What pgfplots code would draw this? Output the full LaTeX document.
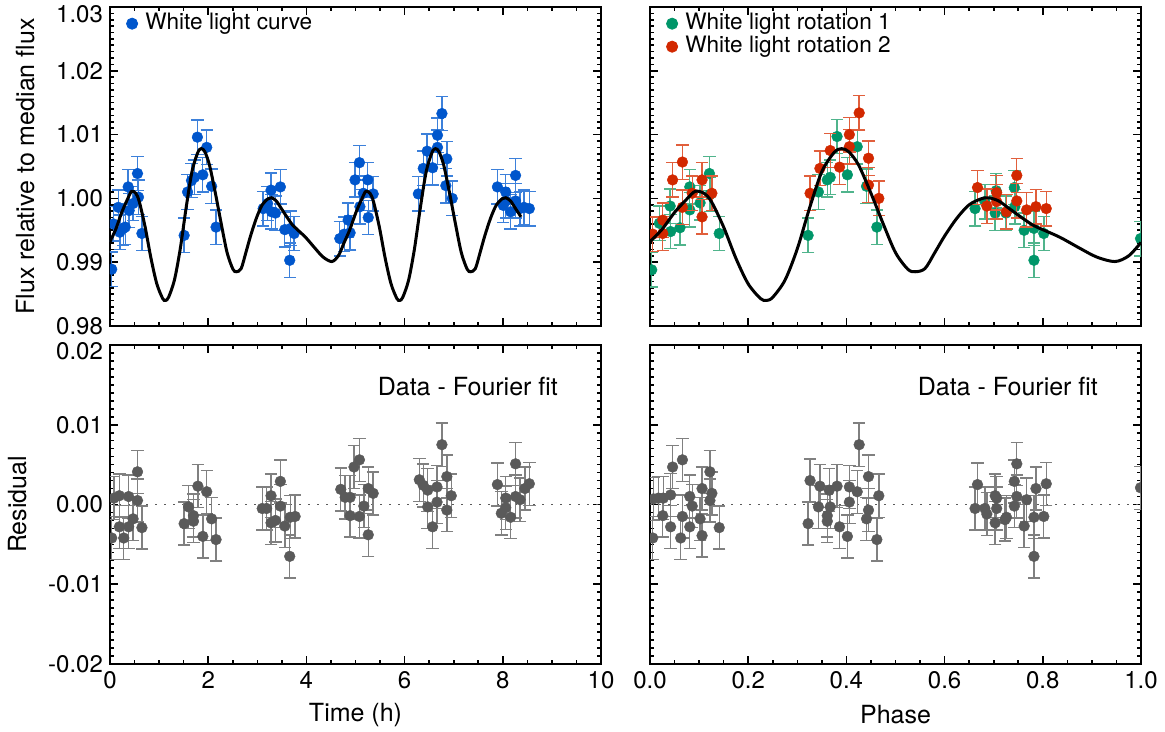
\documentclass[border=0pt]{standalone}
\usepackage{fontspec}
\setmainfont{TeX Gyre Heros}
\usepackage{pgfplots}
\usepackage{pgfplotstable}
\pgfplotsset{compat=1.18}
\definecolor{cblue}{RGB}{0,86,204}
\definecolor{cblueerr}{RGB}{60,128,218}
\definecolor{cgreen}{RGB}{0,150,105}
\definecolor{cgreenerr}{RGB}{80,180,140}
\definecolor{cred}{RGB}{210,40,0}
\definecolor{crederr}{RGB}{225,95,60}
\definecolor{cgray}{RGB}{90,90,90}
\definecolor{cgrayerr}{RGB}{128,128,128}

\pgfplotstableread[row sep=\\]{
x y\\
0.035 0.9889\\ 0.07 0.9960\\ 0.17 0.9986\\ 0.20 0.9947\\ 0.27 0.9953\\ 0.31 0.9955\\
0.37 1.0018\\ 0.39 0.9981\\ 0.47 0.9992\\ 0.56 1.0039\\ 0.58 1.0002\\ 0.65 0.9945\\
1.51 0.9942\\ 1.58 1.0010\\ 1.66 1.0028\\ 1.72 1.0033\\ 1.78 1.0096\\ 1.89 1.0037\\
1.97 1.0080\\ 2.07 1.0019\\ 2.16 0.9955\\
3.12 0.9984\\ 3.21 0.9992\\ 3.28 1.0013\\ 3.29 0.9979\\ 3.37 0.9977\\ 3.47 1.0018\\
3.56 0.9951\\ 3.66 0.9903\\ 3.68 0.9953\\ 3.75 0.9945\\
4.68 0.9937\\ 4.77 0.9944\\ 4.85 0.9966\\ 4.89 0.9946\\ 4.99 1.0029\\ 5.08 1.0056\\
5.09 0.9987\\ 5.16 1.0008\\ 5.25 1.0029\\ 5.26 0.9970\\ 5.36 1.0007\\
6.28 1.0007\\ 6.38 1.0047\\ 6.46 1.0074\\ 6.57 1.0048\\ 6.67 1.0099\\ 6.67 1.0080\\
6.76 1.0133\\ 6.84 1.0020\\ 6.86 1.0062\\ 6.97 1.0000\\
7.89 1.0018\\ 8.01 0.9989\\ 8.06 1.0010\\ 8.06 0.9996\\ 8.16 0.9979\\ 8.26 1.0036\\
8.26 0.9996\\ 8.35 0.9984\\ 8.43 0.9986\\ 8.54 0.9984\\
}\tblue

\pgfplotstableread[row sep=\\]{
x y\\
0.0035 0.9888\\ 0.019 0.9961\\ 0.041 0.9988\\ 0.042 0.9948\\ 0.061 0.9954\\ 0.081 1.0018\\
0.081 0.9982\\ 0.102 0.9993\\ 0.121 1.0039\\ 0.122 1.0006\\ 0.141 0.9945\\
0.322 0.9942\\ 0.343 1.0010\\ 0.361 1.0029\\ 0.367 1.0033\\ 0.381 1.0097\\ 0.402 1.0037\\
0.422 1.0081\\ 0.441 1.0019\\ 0.462 0.9955\\
0.662 0.9984\\ 0.682 0.9995\\ 0.703 0.9977\\ 0.705 1.0012\\ 0.725 0.9977\\ 0.742 1.0017\\
0.743 0.9987\\ 0.762 0.9950\\ 0.782 0.9903\\ 0.782 0.9953\\ 0.802 0.9945\\ 0.999 0.9937\\
}\tgreen

\pgfplotstableread[row sep=\\]{
x y\\
0.0055 0.9944\\ 0.026 0.9966\\ 0.026 0.9945\\ 0.046 1.0029\\ 0.066 1.0057\\ 0.066 0.9986\\
0.086 1.0008\\ 0.106 1.0029\\ 0.106 0.9971\\ 0.126 1.0008\\
0.326 1.0008\\ 0.346 1.0047\\ 0.367 1.0075\\ 0.386 1.0049\\ 0.406 1.0100\\ 0.406 1.0081\\
0.426 1.0134\\ 0.445 1.0063\\ 0.445 1.0021\\ 0.466 1.0000\\
0.667 1.0017\\ 0.686 0.9988\\ 0.706 1.0009\\ 0.706 0.9995\\ 0.726 0.9979\\ 0.747 1.0036\\
0.747 0.9996\\ 0.767 0.9982\\ 0.786 0.9987\\ 0.807 0.9984\\
}\tred

\pgfplotstableread[row sep=\\]{
x y\\
0.035 -0.0042\\ 0.08 0.0008\\ 0.19 0.0011\\ 0.19 -0.0028\\ 0.28 -0.0042\\ 0.38 0.0010\\
0.38 -0.0028\\ 0.47 -0.0018\\ 0.56 0.0041\\ 0.56 0.0005\\ 0.65 -0.0029\\
1.51 -0.0024\\ 1.60 -0.0003\\ 1.70 -0.0014\\ 1.70 -0.0021\\ 1.79 0.0023\\ 1.89 -0.0040\\
1.97 0.0016\\ 2.07 -0.0018\\ 2.16 -0.0044\\
3.10 -0.0005\\ 3.19 -0.0005\\ 3.28 0.0011\\ 3.28 -0.0023\\ 3.37 -0.0020\\ 3.47 0.0029\\
3.47 -0.0002\\ 3.56 -0.0027\\ 3.66 -0.0065\\ 3.67 -0.0016\\ 3.77 -0.0015\\
4.70 0.0019\\ 4.79 0.0009\\ 4.89 0.0009\\ 4.89 -0.0014\\ 4.97 0.0047\\ 5.08 0.0056\\
5.08 -0.0015\\ 5.17 -0.0002\\ 5.26 0.0020\\ 5.26 -0.0038\\ 5.36 0.0014\\
6.30 0.0031\\ 6.38 0.0024\\ 6.47 0.0018\\ 6.47 -0.0003\\ 6.57 -0.0028\\ 6.66 0.0022\\
6.66 0.0003\\ 6.76 0.0075\\ 6.86 0.0035\\ 6.86 -0.0007\\ 6.95 0.0011\\
7.89 0.0025\\ 7.97 -0.0011\\ 8.06 0.0008\\ 8.06 -0.0004\\ 8.16 -0.0016\\ 8.26 0.0051\\
8.26 0.0010\\ 8.35 0.0006\\ 8.45 0.0020\\ 8.54 0.0026\\
}\trestime

\pgfplotstableread[row sep=\\]{
x y\\
0.0055 -0.0042\\ 0.007 0.0007\\ 0.017 0.0008\\ 0.026 -0.0014\\ 0.027 0.0008\\ 0.042 0.0012\\
0.042 -0.0028\\ 0.046 0.0047\\ 0.0625 -0.0042\\ 0.066 -0.0015\\ 0.066 0.0056\\ 0.081 0.0010\\
0.081 -0.0028\\ 0.086 -0.0002\\ 0.102 -0.0018\\ 0.106 0.0020\\ 0.106 -0.0039\\ 0.122 0.0041\\
0.122 0.0005\\ 0.126 0.0014\\ 0.141 -0.0029\\
0.322 -0.0024\\ 0.326 0.0030\\ 0.343 -0.0003\\ 0.346 0.0023\\ 0.361 -0.0014\\ 0.361 -0.0021\\
0.365 0.0018\\ 0.367 -0.0003\\ 0.381 0.0023\\ 0.386 -0.0028\\ 0.402 -0.0040\\ 0.406 0.0022\\
0.406 0.0003\\ 0.422 0.0016\\ 0.426 0.0075\\ 0.441 -0.0018\\ 0.445 0.0035\\ 0.445 -0.0007\\
0.462 -0.0044\\ 0.466 0.0011\\
0.662 -0.0005\\ 0.667 0.0025\\ 0.682 -0.0005\\ 0.686 -0.0012\\ 0.703 0.0011\\ 0.703 -0.0023\\
0.706 0.0008\\ 0.706 -0.0005\\ 0.723 -0.0019\\ 0.726 -0.0016\\ 0.742 0.0029\\ 0.742 -0.0002\\
0.747 0.0051\\ 0.747 0.0010\\ 0.762 -0.0027\\ 0.767 0.0006\\ 0.782 -0.0065\\ 0.782 -0.0016\\
0.786 0.0020\\ 0.802 -0.0015\\ 0.807 0.0026\\ 0.999 0.0021\\
}\tresphase

\pgfplotstableread[row sep=\\]{
x y\\
0.000 0.9932\\ 0.025 0.9952\\ 0.050 0.9978\\ 0.075 0.9999\\ 0.092 1.0011\\ 0.110 1.0008\\
0.125 0.9995\\ 0.150 0.9955\\ 0.175 0.9906\\ 0.200 0.9866\\ 0.225 0.9843\\ 0.237 0.9840\\
0.250 0.9845\\ 0.275 0.9872\\ 0.300 0.9921\\ 0.325 0.9985\\ 0.350 1.0042\\ 0.375 1.0072\\
0.390 1.0078\\ 0.405 1.0073\\ 0.425 1.0052\\ 0.450 1.0008\\ 0.475 0.9960\\ 0.500 0.9915\\
0.525 0.9889\\ 0.540 0.9885\\ 0.560 0.9890\\ 0.580 0.9915\\ 0.600 0.9941\\ 0.625 0.9969\\
0.650 0.9990\\ 0.675 0.99995\\ 0.690 1.0001\\ 0.710 0.9996\\ 0.730 0.9985\\ 0.755 0.9971\\
0.780 0.9958\\ 0.800 0.9951\\ 0.835 0.9939\\ 0.875 0.9922\\ 0.910 0.9908\\ 0.947 0.9901\\
0.975 0.9910\\ 1.000 0.9931\\
}\tfitphase

\pgfplotstableread[row sep=\\]{
x y\\
0.000 0.9932\\ 0.119 0.9952\\ 0.239 0.9978\\ 0.358 0.9999\\ 0.439 1.0011\\ 0.525 1.0008\\
0.596 0.9995\\ 0.716 0.9955\\ 0.835 0.9906\\ 0.954 0.9866\\ 1.073 0.9843\\ 1.130 0.9840\\
1.193 0.9845\\ 1.312 0.9872\\ 1.431 0.9921\\ 1.550 0.9985\\ 1.670 1.0042\\ 1.789 1.0072\\
1.860 1.0078\\ 1.932 1.0073\\ 2.027 1.0052\\ 2.147 1.0008\\ 2.266 0.9960\\ 2.385 0.9915\\
2.504 0.9889\\ 2.576 0.9885\\ 2.671 0.9890\\ 2.767 0.9915\\ 2.862 0.9941\\ 2.981 0.9969\\
3.101 0.9990\\ 3.220 0.99995\\ 3.291 1.0001\\ 3.387 0.9996\\ 3.482 0.9985\\ 3.601 0.9971\\
3.721 0.9958\\ 3.816 0.9951\\ 3.983 0.9939\\ 4.174 0.9922\\ 4.341 0.9908\\ 4.517 0.9901\\
4.651 0.9910\\ 4.770 0.9931\\
4.889 0.9952\\ 5.009 0.9978\\ 5.128 0.9999\\ 5.209 1.0011\\ 5.295 1.0008\\
5.366 0.9995\\ 5.486 0.9955\\ 5.605 0.9906\\ 5.724 0.9866\\ 5.843 0.9843\\ 5.900 0.9840\\
5.963 0.9845\\ 6.082 0.9872\\ 6.201 0.9921\\ 6.320 0.9985\\ 6.440 1.0042\\ 6.559 1.0072\\
6.630 1.0078\\ 6.702 1.0073\\ 6.797 1.0052\\ 6.917 1.0008\\ 7.036 0.9960\\ 7.155 0.9915\\
7.274 0.9889\\ 7.346 0.9885\\ 7.441 0.9890\\ 7.537 0.9915\\ 7.632 0.9941\\ 7.751 0.9969\\
7.871 0.9990\\ 7.990 0.99995\\ 8.061 1.0001\\ 8.157 0.9996\\ 8.252 0.9985\\ 8.371 0.9971\\
}\tfittime

\pgfplotsset{
  panel/.style={
    scale only axis, width=245.5pt, height=159.5pt,
    axis line style={line width=1pt},
    tick align=inside, major tick length=4pt, minor tick length=2pt,
    tick style={black, line width=0.8pt},
    minor x tick num=3, minor y tick num=9,
    scaled y ticks=false, scaled x ticks=false,
    clip marker paths=true,
    tick label style={font=\fontsize{12}{14}\selectfont},
    label style={font=\fontsize{12.5}{15}\selectfont},
    /pgf/number format/assume math mode=true,
    legend style={draw=none, fill=none, font=\fontsize{11.3}{13}\selectfont,
      legend cell align=left, row sep=0pt, inner sep=0pt,
      nodes={inner sep=0.5pt, text height=8pt, text depth=2.5pt}},
  },
  pts/.style 2 args={only marks, mark=*, mark size=2.7pt,
    mark options={fill=#1, draw=#1, line width=0.2pt},
    error bars/.cd, y dir=both, y fixed=0.0027,
    error bar style={line width=0.7pt, #2},
    error mark options={rotate=90, mark size=3.1pt, line width=0.7pt, #2}},
}

\begin{document}
\begin{tikzpicture}
\useasboundingbox (0,0) rectangle (582.5pt,366pt);
% top-left
\begin{axis}[panel, at={(55pt,203pt)}, anchor=south west,
  xmin=0, xmax=10, ymin=0.98, ymax=1.03,
  xtick={0,2,4,6,8,10}, xticklabels={},
  ytick={0.98,0.99,1.00,1.01,1.02,1.03},
  yticklabels={0.98,0.99,1.00,1.01,1.02,\raisebox{-3.5pt}[\height][\depth]{1.03}},
  ylabel={Flux relative to median flux},
  ylabel style={at={(axis description cs:-0.173,0.5)}, anchor=center},
  legend style={at={(axis description cs:0.032,0.985)}, anchor=north west},
]
\addlegendimage{legend image code/.code={\path[draw=none,fill=none] (0pt,-0.1pt) rectangle (9.1pt,0.1pt); \fill[cblue] (3pt,0pt) circle (2.8pt);}}
\addlegendentry{White light curve}
\addplot[forget plot, pts={cblue}{cblueerr}] table {\tblue};
\addplot[forget plot, black, line width=1.5pt, smooth] table {\tfittime};
\end{axis}
% top-right
\begin{axis}[panel, at={(325pt,203pt)}, anchor=south west,
  xmin=0, xmax=1, ymin=0.98, ymax=1.03,
  xtick={0,0.2,0.4,0.6,0.8,1.0}, xticklabels={},
  ytick={0.98,0.99,1.00,1.01,1.02,1.03}, yticklabels={},
  legend style={at={(axis description cs:0.032,0.985)}, anchor=north west},
]
\addlegendimage{legend image code/.code={\path[draw=none,fill=none] (0pt,-0.1pt) rectangle (9.1pt,0.1pt); \fill[cgreen] (3pt,0pt) circle (2.8pt);}}
\addlegendentry{White light rotation 1}
\addlegendimage{legend image code/.code={\path[draw=none,fill=none] (0pt,-0.1pt) rectangle (9.1pt,0.1pt); \fill[cred] (3pt,0pt) circle (2.8pt);}}
\addlegendentry{White light rotation 2}
\addplot[forget plot, pts={cgreen}{cgreenerr}] table {\tgreen};
\addplot[forget plot, pts={cred}{crederr}] table {\tred};
\addplot[forget plot, black, line width=1.5pt, smooth] table {\tfitphase};
\end{axis}
% bottom-left
\begin{axis}[panel, at={(55pt,34pt)}, anchor=south west,
  xmin=0, xmax=10, ymin=-0.02, ymax=0.02,
  xtick={0,2,4,6,8,10}, xticklabels={0,2,4,6,8,10},
  ytick={-0.02,-0.01,0,0.01,0.02},
  yticklabels={-0.02,-0.01,0.00,0.01,\raisebox{-3.3pt}[\height][\depth]{0.02}},
  xlabel={Time (h)},
  xlabel style={at={(axis description cs:0.5,-0.16)}, anchor=center},
  ylabel={Residual},
  ylabel style={at={(axis description cs:-0.189,0.5)}, anchor=center},
]
\addplot[cgray, line width=0.8pt, dash pattern=on 1pt off 3.5pt] coordinates {(0,0) (10,0)};
\addplot[pts={cgray}{cgrayerr}] table {\trestime};
\node[anchor=east, font=\fontsize{12.5}{15}\selectfont] at (axis cs:9.266,0.0148) {Data - Fourier fit};
\end{axis}
% bottom-right
\begin{axis}[panel, at={(325pt,34pt)}, anchor=south west,
  xmin=0, xmax=1, ymin=-0.02, ymax=0.02,
  xtick={0,0.2,0.4,0.6,0.8,1.0}, xticklabels={0.0,0.2,0.4,0.6,0.8,1.0},
  ytick={-0.02,-0.01,0,0.01,0.02}, yticklabels={},
  xlabel={Phase},
  xlabel style={at={(axis description cs:0.5,-0.16)}, anchor=center},
]
\addplot[cgray, line width=0.8pt, dash pattern=on 1pt off 3.5pt] coordinates {(0,0) (1,0)};
\addplot[pts={cgray}{cgrayerr}] table {\tresphase};
\node[anchor=east, font=\fontsize{12.5}{15}\selectfont] at (axis cs:0.9266,0.0148) {Data - Fourier fit};
\end{axis}
\end{tikzpicture}
\end{document}
